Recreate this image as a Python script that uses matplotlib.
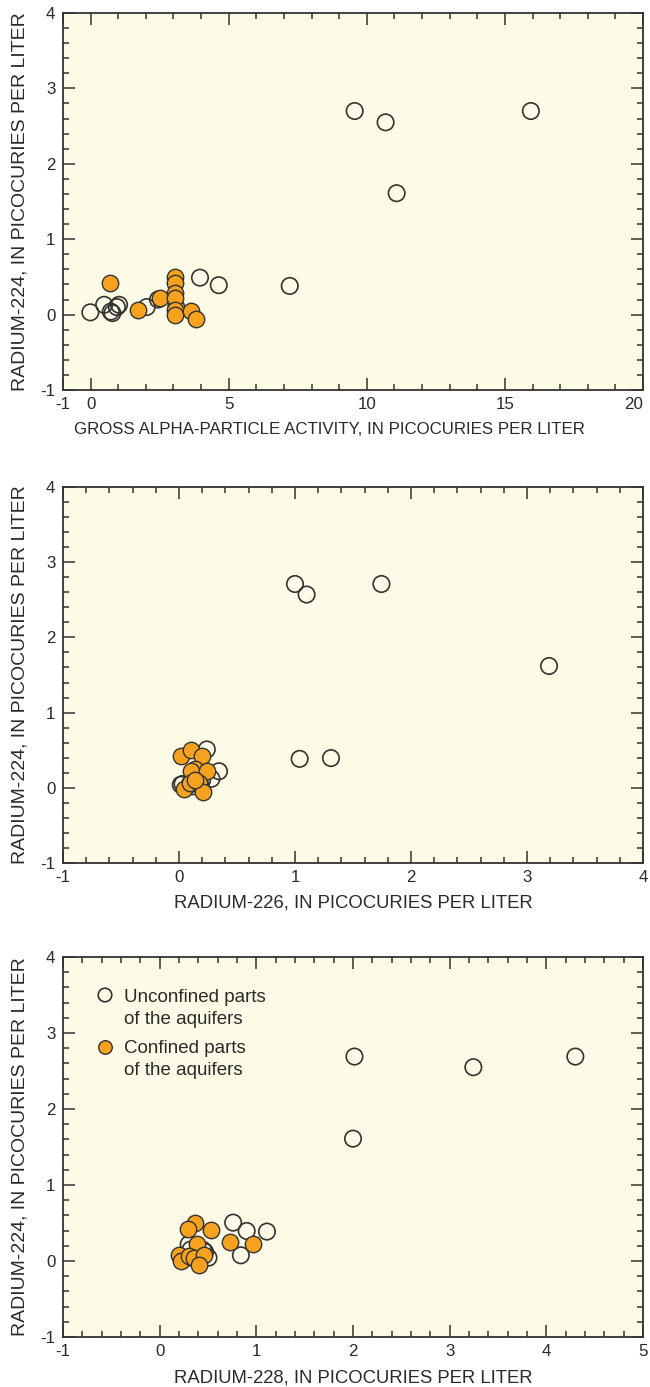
import matplotlib
matplotlib.use("Agg")
import matplotlib.pyplot as plt
from matplotlib.ticker import MultipleLocator, FixedLocator

plt.rcParams['font.family'] = ['Liberation Sans', 'DejaVu Sans']
plt.rcParams['axes.unicode_minus'] = False

# Gross alpha vs radium-224
alpha_unconf_x = [-0.01, 0.49, 0.73, 0.79, 1.03, 0.95, 2.03, 2.44, 3.1, 3.96, 4.64, 7.21, 9.56, 10.68, 15.94, 11.08]
alpha_unconf_y = [0.03, 0.13, 0.04, 0.02, 0.13, 0.10, 0.10, 0.20, 0.10, 0.49, 0.39, 0.38, 2.70, 2.55, 2.70, 1.61]
alpha_conf_x = [0.71, 1.73, 2.52, 3.05, 3.05, 3.05, 3.05, 3.05, 3.05, 3.62, 3.81]
alpha_conf_y = [0.42, 0.06, 0.22, 0.50, 0.42, 0.28, 0.22, 0.06, 0.00, 0.05, -0.06]

# Radium-226 vs radium-224
ra226_unconf_x = [1.00, 1.10, 1.745, 3.19, 1.04, 1.31, 0.24, 0.345, 0.28, 0.015, 0.03, 0.15, 0.12, 0.20, 0.09, 0.18]
ra226_unconf_y = [2.71, 2.57, 2.71, 1.62, 0.385, 0.395, 0.51, 0.22, 0.12, 0.04, 0.05, 0.13, 0.02, 0.10, 0.04, 0.06]
ra226_conf_x = [0.02, 0.10, 0.196, 0.136, 0.10, 0.24, 0.045, 0.093, 0.17, 0.21, 0.14]
ra226_conf_y = [0.42, 0.50, 0.42, 0.25, 0.22, 0.23, -0.02, 0.06, 0.06, -0.05, 0.10]

# Radium-228 vs radium-224
ra228_unconf_x = [2.015, 3.245, 4.30, 2.00, 0.76, 0.90, 1.11, 0.84, 0.30, 0.32, 0.45, 0.505, 0.40, 0.35, 0.25, 0.47]
ra228_unconf_y = [2.69, 2.55, 2.69, 1.61, 0.505, 0.395, 0.387, 0.075, 0.22, 0.15, 0.145, 0.044, 0.10, 0.05, 0.02, 0.12]
ra228_conf_x = [0.37, 0.29, 0.53, 0.39, 0.73, 0.967, 0.20, 0.22, 0.30, 0.36, 0.46, 0.405]
ra228_conf_y = [0.505, 0.42, 0.41, 0.23, 0.255, 0.22, 0.08, 0.00, 0.065, 0.04, 0.08, -0.05]

x_labels = ["GROSS ALPHA-PARTICLE ACTIVITY, IN PICOCURIES PER LITER",
            "RADIUM-226, IN PICOCURIES PER LITER",
            "RADIUM-228, IN PICOCURIES PER LITER"]
x_label_sizes = [12.2, 13.3, 13.3]
x_label_centers = [0.46, 0.5, 0.5]
y_label = "RADIUM-224, IN PICOCURIES PER LITER"
legend_labels = [("Unconfined parts", "of the aquifers"),
                 ("Confined parts", "of the aquifers")]

BG = '#FEFCE6'
ORANGE = '#F7A21E'
EDGE = '#333333'
TXT = '#2a2a2a'
MS = 140

fig = plt.figure(figsize=(6.5, 13.87), dpi=100)
W, H = 650.0, 1387.0
left_px, right_px = 63, 643
panels_px = [(13, 390), (487, 863), (957, 1337)]

axes = []
for top, bot in panels_px:
    ax = fig.add_axes([left_px / W, 1 - bot / H, (right_px - left_px) / W, (bot - top) / H])
    axes.append(ax)

datasets = [
    (alpha_unconf_x, alpha_unconf_y, alpha_conf_x, alpha_conf_y, (-1, 20), [-1, 0, 5, 10, 15, 20], 1.0),
    (ra226_unconf_x, ra226_unconf_y, ra226_conf_x, ra226_conf_y, (-1, 4), [-1, 0, 1, 2, 3, 4], 0.2),
    (ra228_unconf_x, ra228_unconf_y, ra228_conf_x, ra228_conf_y, (-1, 5), [-1, 0, 1, 2, 3, 4, 5], 0.2),
]

for ax, (ux, uy, cx, cy, xlim, xt, xminor), xl, xls, xlc in zip(
        axes, datasets, x_labels, x_label_sizes, x_label_centers):
    ax.set_facecolor(BG)
    ax.scatter(ux, uy, s=MS, facecolors='none', edgecolors=EDGE, linewidths=1.2, zorder=3)
    ax.scatter(cx, cy, s=MS, facecolors=ORANGE, edgecolors=EDGE, linewidths=1.0, zorder=4)
    ax.set_xlim(*xlim)
    ax.set_ylim(-1, 4)
    ax.xaxis.set_major_locator(FixedLocator(xt))
    ax.xaxis.set_minor_locator(MultipleLocator(xminor))
    ax.yaxis.set_major_locator(MultipleLocator(1))
    ax.yaxis.set_minor_locator(MultipleLocator(0.2))
    ax.tick_params(which='both', direction='in', top=True, right=True,
                   colors=EDGE, labelcolor=TXT, labelsize=12.2, width=1.1)
    ax.tick_params(which='major', length=8.5)
    ax.tick_params(which='minor', length=4.5)
    ax.tick_params(axis='x', which='major', pad=5)
    ax.tick_params(axis='y', which='major', pad=5.5)
    for sp in ax.spines.values():
        sp.set_color(EDGE)
        sp.set_linewidth(1.3)
    ax.set_xlabel(xl, fontsize=xls, color=TXT)
    ax.set_ylabel(y_label, fontsize=14, color=TXT)
    ax.xaxis.set_label_coords(xlc, -0.085)
    ax.yaxis.set_label_coords(-0.06, 0.5)

# keep the rightmost label of the top panel inside the figure
fig.canvas.draw()
axes[0].get_xticklabels()[-1].set_horizontalalignment('right')

# Legend drawn in the lower panel
ax3 = axes[2]
leg_x, txt_x = 0.0724, 0.105
line_gap = 22.0 / 380
for (line1, line2), y0, face in zip(legend_labels, [0.900, 0.764], ['none', ORANGE]):
    ax3.scatter([leg_x], [y0], s=95, facecolors=face, edgecolors=EDGE,
                linewidths=1.2 if face == 'none' else 1.0,
                transform=ax3.transAxes, clip_on=False, zorder=5)
    ax3.text(txt_x, y0, line1, transform=ax3.transAxes, fontsize=13.5, color=TXT,
             va='center_baseline', ha='left')
    ax3.text(txt_x, y0 - line_gap, line2, transform=ax3.transAxes, fontsize=13.5, color=TXT,
             va='center_baseline', ha='left')

fig.savefig("out.png", dpi=100, facecolor='white')
